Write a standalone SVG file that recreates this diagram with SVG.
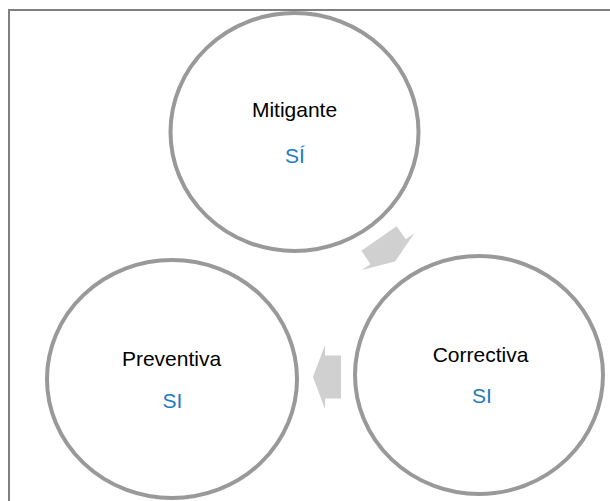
<svg xmlns="http://www.w3.org/2000/svg" width="610" height="501" viewBox="0 0 610 501">
<style>
.frame{fill:#fff;stroke:#808080;stroke-width:2}
.node{fill:#fff;stroke:#999;stroke-width:4}
.lbl{font-family:"Liberation Sans",Arial,sans-serif;font-size:21px;fill:#000;text-anchor:middle}
.val{font-family:"Liberation Sans",Arial,sans-serif;font-size:21px;fill:#1f7ac4;text-anchor:middle}
.arr{fill:#d0d0d0;stroke:none}
</style>
<defs>
<path id="blk" d="M14,0 L2,-32 L2,-21.5 L-14,-21.5 L-14,21.5 L2,21.5 L2,32 Z"/>
</defs>
<rect class="frame" x="9" y="10" width="620" height="510"/>
<g id="connectors">
<use href="#blk" class="arr" transform="translate(387,250) rotate(55)"/>
<use href="#blk" class="arr" transform="translate(327,377) rotate(180)"/>
</g>
<g id="mitigante">
<ellipse class="node" cx="294.5" cy="132" rx="124" ry="119"/>
<text class="lbl" x="294.5" y="117">Mitigante</text>
<text class="val" x="295" y="163">SÍ</text>
</g>
<g id="preventiva">
<ellipse class="node" cx="172" cy="379" rx="125" ry="119"/>
<text class="lbl" x="171.5" y="366">Preventiva</text>
<text class="val" x="172.5" y="408">SI</text>
</g>
<g id="correctiva">
<ellipse class="node" cx="479" cy="375" rx="124" ry="119"/>
<text class="lbl" x="480.5" y="362">Correctiva</text>
<text class="val" x="482" y="403">SI</text>
</g>
</svg>
